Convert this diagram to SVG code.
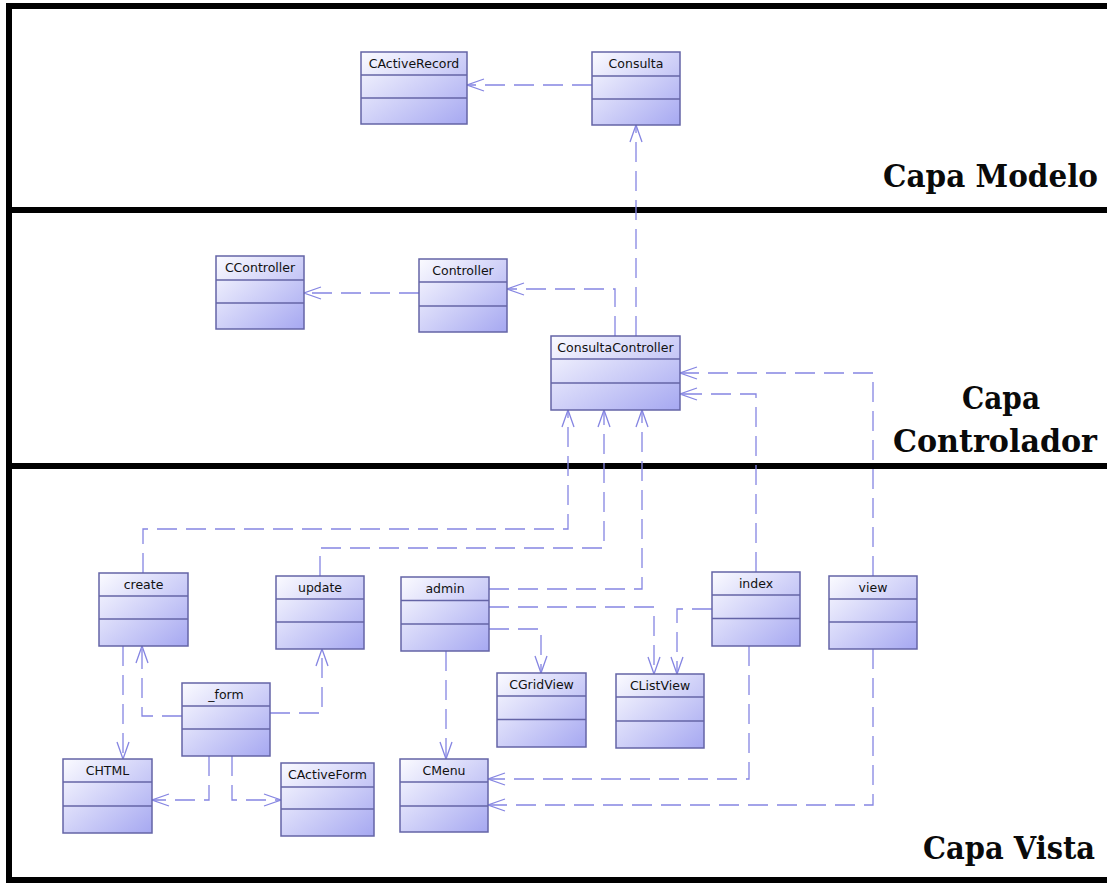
<svg xmlns="http://www.w3.org/2000/svg" width="1107" height="883" viewBox="0 0 1107 883">
<style>
.box{fill:url(#g);stroke:#6464a6;stroke-width:1.5}
.sep{stroke:#6464a6;stroke-width:1.5}
.lbl{font-family:"DejaVu Sans",sans-serif;font-size:12.5px;fill:#111;text-anchor:middle}
.conn{fill:none;stroke:#8585e2;stroke-width:1.3;stroke-dasharray:20 9}
.layer{font-family:"DejaVu Serif","Liberation Serif",serif;font-weight:bold;font-size:31px;fill:#0a0a0a}
.frame{fill:#000}
</style>
<defs>
<linearGradient id="g" x1="0" y1="0" x2="1" y2="1">
<stop offset="0" stop-color="#fbfbff"/>
<stop offset="1" stop-color="#a6a8f1"/>
</linearGradient>
<marker id="arr" viewBox="0 0 20 14" markerWidth="20" markerHeight="14" refX="18" refY="7" orient="auto" markerUnits="userSpaceOnUse">
<path d="M1,1 L18,7 L1,13" fill="none" stroke="#8585e2" stroke-width="1.3" stroke-dasharray="none"/>
</marker>
</defs>
<rect width="1107" height="883" fill="#fff"/>
<g id="frame">
<rect class="frame" x="6" y="3" width="1101" height="6"/>
<rect class="frame" x="6" y="3" width="6" height="880"/>
<rect class="frame" x="6" y="207" width="1101" height="6"/>
<rect class="frame" x="6" y="463" width="1101" height="6"/>
<rect class="frame" x="6" y="877" width="1101" height="6"/>
</g>
<g id="layer-labels">
<text class="layer" x="883" y="187" textLength="215" lengthAdjust="spacingAndGlyphs">Capa Modelo</text>
<text class="layer" x="962" y="409" textLength="78" lengthAdjust="spacingAndGlyphs">Capa</text>
<text class="layer" x="893" y="452" textLength="204" lengthAdjust="spacingAndGlyphs">Controlador</text>
<text class="layer" x="923" y="859" textLength="172" lengthAdjust="spacingAndGlyphs">Capa Vista</text>
</g>
<g id="connectors">
<path class="conn" marker-end="url(#arr)" d="M592,85 H467"/>
<path class="conn" marker-end="url(#arr)" d="M636,336 V125"/>
<path class="conn" marker-end="url(#arr)" d="M615,336 V289 H507"/>
<path class="conn" marker-end="url(#arr)" d="M419,293 H304"/>
<path class="conn" marker-end="url(#arr)" d="M143,573 V529 H568 V410"/>
<path class="conn" marker-end="url(#arr)" d="M320,576 V548 H604 V410"/>
<path class="conn" marker-end="url(#arr)" d="M489,589 H642 V410"/>
<path class="conn" marker-end="url(#arr)" d="M756,572 V394 H680"/>
<path class="conn" marker-end="url(#arr)" d="M873,576 V373 H680"/>
<path class="conn" marker-end="url(#arr)" d="M489,607 H654 V674"/>
<path class="conn" marker-end="url(#arr)" d="M489,629 H541 V673"/>
<path class="conn" marker-end="url(#arr)" d="M712,609 H677 V674"/>
<path class="conn" marker-end="url(#arr)" d="M446,651 V759"/>
<path class="conn" marker-end="url(#arr)" d="M749,646 V779 H488"/>
<path class="conn" marker-end="url(#arr)" d="M873,649 V805 H488"/>
<path class="conn" marker-end="url(#arr)" d="M123,646 V759"/>
<path class="conn" marker-end="url(#arr)" d="M182,716 H142 V646"/>
<path class="conn" marker-end="url(#arr)" d="M270,713 H322 V649"/>
<path class="conn" marker-end="url(#arr)" d="M209,756 V800 H152"/>
<path class="conn" marker-end="url(#arr)" d="M232,756 V800 H281"/>
</g>
<g id="node-CActiveRecord"><rect class="box" x="361" y="52" width="106" height="72"/><line class="sep" x1="361" y1="75" x2="467" y2="75"/><line class="sep" x1="361" y1="98" x2="467" y2="98"/><text class="lbl" x="414" y="68">CActiveRecord</text></g>
<g id="node-Consulta"><rect class="box" x="592" y="52" width="88" height="73"/><line class="sep" x1="592" y1="76" x2="680" y2="76"/><line class="sep" x1="592" y1="99" x2="680" y2="99"/><text class="lbl" x="636" y="68">Consulta</text></g>
<g id="node-CController"><rect class="box" x="216" y="256" width="88" height="73"/><line class="sep" x1="216" y1="280" x2="304" y2="280"/><line class="sep" x1="216" y1="303" x2="304" y2="303"/><text class="lbl" x="260" y="272">CController</text></g>
<g id="node-Controller"><rect class="box" x="419" y="259" width="88" height="73"/><line class="sep" x1="419" y1="282" x2="507" y2="282"/><line class="sep" x1="419" y1="306" x2="507" y2="306"/><text class="lbl" x="463" y="275">Controller</text></g>
<g id="node-ConsultaController"><rect class="box" x="551" y="336" width="129" height="74"/><line class="sep" x1="551" y1="359" x2="680" y2="359"/><line class="sep" x1="551" y1="383" x2="680" y2="383"/><text class="lbl" x="615.5" y="352">ConsultaController</text></g>
<g id="node-create"><rect class="box" x="99" y="573" width="89" height="73"/><line class="sep" x1="99" y1="596" x2="188" y2="596"/><line class="sep" x1="99" y1="619" x2="188" y2="619"/><text class="lbl" x="143.5" y="589">create</text></g>
<g id="node-update"><rect class="box" x="276" y="576" width="88" height="73"/><line class="sep" x1="276" y1="599" x2="364" y2="599"/><line class="sep" x1="276" y1="622" x2="364" y2="622"/><text class="lbl" x="320" y="592">update</text></g>
<g id="node-admin"><rect class="box" x="401" y="577" width="88" height="74"/><line class="sep" x1="401" y1="600.5" x2="489" y2="600.5"/><line class="sep" x1="401" y1="624" x2="489" y2="624"/><text class="lbl" x="445" y="593">admin</text></g>
<g id="node-index"><rect class="box" x="712" y="572" width="88" height="74"/><line class="sep" x1="712" y1="595" x2="800" y2="595"/><line class="sep" x1="712" y1="618.5" x2="800" y2="618.5"/><text class="lbl" x="756" y="588">index</text></g>
<g id="node-view"><rect class="box" x="829" y="576" width="88" height="73"/><line class="sep" x1="829" y1="599" x2="917" y2="599"/><line class="sep" x1="829" y1="622" x2="917" y2="622"/><text class="lbl" x="873" y="592">view</text></g>
<g id="node-CGridView"><rect class="box" x="497" y="673" width="89" height="74"/><line class="sep" x1="497" y1="696" x2="586" y2="696"/><line class="sep" x1="497" y1="719.5" x2="586" y2="719.5"/><text class="lbl" x="541.5" y="689">CGridView</text></g>
<g id="node-CListView"><rect class="box" x="616" y="674" width="88" height="74"/><line class="sep" x1="616" y1="697" x2="704" y2="697"/><line class="sep" x1="616" y1="721" x2="704" y2="721"/><text class="lbl" x="660" y="690">CListView</text></g>
<g id="node-_form"><rect class="box" x="182" y="683" width="88" height="73"/><line class="sep" x1="182" y1="706" x2="270" y2="706"/><line class="sep" x1="182" y1="729" x2="270" y2="729"/><text class="lbl" x="226" y="699">_form</text></g>
<g id="node-CHTML"><rect class="box" x="63" y="759" width="89" height="74"/><line class="sep" x1="63" y1="782" x2="152" y2="782"/><line class="sep" x1="63" y1="806" x2="152" y2="806"/><text class="lbl" x="107.5" y="775">CHTML</text></g>
<g id="node-CActiveForm"><rect class="box" x="281" y="763" width="93" height="73"/><line class="sep" x1="281" y1="787" x2="374" y2="787"/><line class="sep" x1="281" y1="809" x2="374" y2="809"/><text class="lbl" x="327.5" y="779">CActiveForm</text></g>
<g id="node-CMenu"><rect class="box" x="400" y="759" width="88" height="73"/><line class="sep" x1="400" y1="782" x2="488" y2="782"/><line class="sep" x1="400" y1="806" x2="488" y2="806"/><text class="lbl" x="444" y="775">CMenu</text></g>
</svg>
